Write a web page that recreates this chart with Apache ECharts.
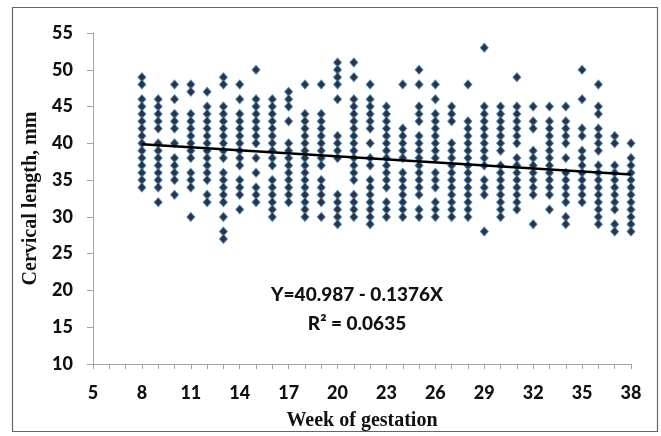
<!DOCTYPE html>
<html>
<head>
<meta charset="utf-8">
<script src="https://cdn.jsdelivr.net/npm/echarts@6/dist/echarts.min.js"></script>
<style>html,body{margin:0;padding:0;background:#fff}#c{width:661px;height:436px}</style>
</head>
<body>
<div id="c"></div>
<script>
const weeks = [8,9,10,11,12,13,14,15,16,17,18,19,20,21,22,23,24,25,26,27,28,29,30,31,32,33,34,35,36,37,38];
const cervicalByWeek = [
  [49,48,46,45,44,43,42,41,40,39,38,37,36,35,34],
  [46,45,44,43,42,40,39,38,37,36,35,34,32],
  [48,46,44,43,42,40,38,37,36,35,33],
  [48,47,44,43,42,41,40,39,38,36,35,34,30],
  [47,45,44,43,42,41,40,39,38,37,36,35,33,32],
  [49,48,45,44,43,42,41,40,39,38,36,35,34,33,32,30,28,27],
  [48,46,44,43,42,41,40,39,38,37,35,34,33,31],
  [50,46,45,44,43,42,41,40,38,36,34,33,32],
  [46,45,44,43,42,41,40,39,38,37,35,34,33,32,31,30],
  [47,46,45,43,40,39,38,37,36,35,34,33,32],
  [48,44,43,42,41,40,39,38,37,36,35,34,33,32,31,30],
  [48,44,43,42,41,40,39,38,37,35,34,33,32,30],
  [51,50,49,48,46,41,40,39,38,33,32,31,30,29],
  [51,49,46,45,44,43,42,41,40,39,38,37,36,35,33,32,31,30],
  [48,46,45,44,43,42,40,38,37,35,34,33,32,31,30,29],
  [45,44,43,42,41,40,39,38,37,36,35,34,32,31,30],
  [48,42,41,40,39,38,36,35,34,33,32,31,30],
  [50,48,45,44,43,41,40,39,38,37,36,35,34,33,31,30],
  [48,46,44,43,42,41,40,39,38,36,35,34,32,31,30],
  [45,44,43,40,39,38,37,36,35,34,33,32,31,30],
  [48,43,42,41,40,39,38,37,36,35,34,33,32,31,30],
  [53,45,44,43,42,41,40,39,38,37,35,34,33,28],
  [45,44,43,42,41,40,39,37,36,35,34,33,32,31,30],
  [49,45,44,43,42,41,40,38,37,36,35,34,33,32,31],
  [45,43,42,39,38,37,36,35,34,33,29],
  [45,43,42,41,40,39,38,37,36,35,34,33,31],
  [45,43,42,41,40,38,36,35,34,33,32,30,29],
  [50,46,42,41,39,38,37,36,35,34,33,32],
  [48,45,44,42,41,40,39,37,36,35,34,33,32,31,30,29],
  [41,40,37,36,35,34,33,32,31,29,28],
  [40,38,37,36,35,34,33,32,31,30,29,28]
];
const xTicks = [5,8,11,14,17,20,23,26,29,32,35,38];
const yTicks = [10,15,20,25,30,35,40,45,50,55];
const regressionX = [8, 38];
const regressionY = [39.886, 35.758];
const equationText = 'Y=40.987 - 0.1376X';
const r2Text = 'R\u00B2 = 0.0635';

const points = [];
weeks.forEach((w, i) => cervicalByWeek[i].forEach(v => points.push([w, v])));
const regLine = regressionX.map((x, i) => [x, regressionY[i]]);

const chart = echarts.init(document.getElementById('c'), null, {renderer: 'canvas'});
const labelFont = {fontFamily: 'Lato', fontWeight: 900, fontSize: 18, color: '#111'};
chart.setOption({
  animation: false,
  backgroundColor: '#fff',
  grid: {left: 93, right: 30, top: 33, bottom: 65},
  xAxis: {
    type: 'value', min: xTicks[0], max: xTicks[xTicks.length - 1], interval: 3,
    name: 'Week of gestation', nameLocation: 'middle', nameGap: 47,
    nameTextStyle: {fontFamily: 'Liberation Serif', fontWeight: 'bold', fontSize: 20, color: '#111'},
    axisLine: {show: true, lineStyle: {color: '#a6a6a6', width: 1}},
    axisTick: {show: true, length: 5, lineStyle: {color: '#a6a6a6'}},
    minorTick: {show: true, splitNumber: 3, length: 5, lineStyle: {color: '#a6a6a6'}},
    splitLine: {show: false},
    axisLabel: Object.assign({margin: 20}, labelFont)
  },
  yAxis: {
    type: 'value', min: yTicks[0], max: yTicks[yTicks.length - 1], interval: 5,
    name: 'Cervical length, mm', nameLocation: 'middle', nameGap: 49,
    nameTextStyle: {fontFamily: 'Liberation Serif', fontWeight: 'bold', fontSize: 20, color: '#111'},
    axisLine: {show: true, lineStyle: {color: '#a6a6a6', width: 1}},
    axisTick: {show: true, length: 6, lineStyle: {color: '#a6a6a6'}},
    splitLine: {show: false},
    axisLabel: Object.assign({margin: 20}, labelFont)
  },
  series: [
    {
      type: 'scatter', data: points, symbol: 'diamond', symbolSize: [8, 9],
      itemStyle: {color: '#000', borderColor: '#3b86d6', borderWidth: 1}
    },
    {
      type: 'line', data: regLine, symbol: 'none', z: 5,
      lineStyle: {color: '#000', width: 2.5}
    }
  ],
  graphic: [
    {type: 'rect', shape: {x: 12.5, y: 7.5, width: 645, height: 424}, style: {fill: 'none', stroke: '#666', lineWidth: 1.2}, silent: true},
    {type: 'text', x: 357, y: 295, style: {text: equationText, fontFamily: 'Lato', fontWeight: 900, fontSize: 19, fill: '#111', align: 'center', verticalAlign: 'middle'}},
    {type: 'text', x: 357, y: 324, style: {text: r2Text, fontFamily: 'Lato', fontWeight: 900, fontSize: 19, fill: '#111', align: 'center', verticalAlign: 'middle'}}
  ]
});
</script>
</body>
</html>
